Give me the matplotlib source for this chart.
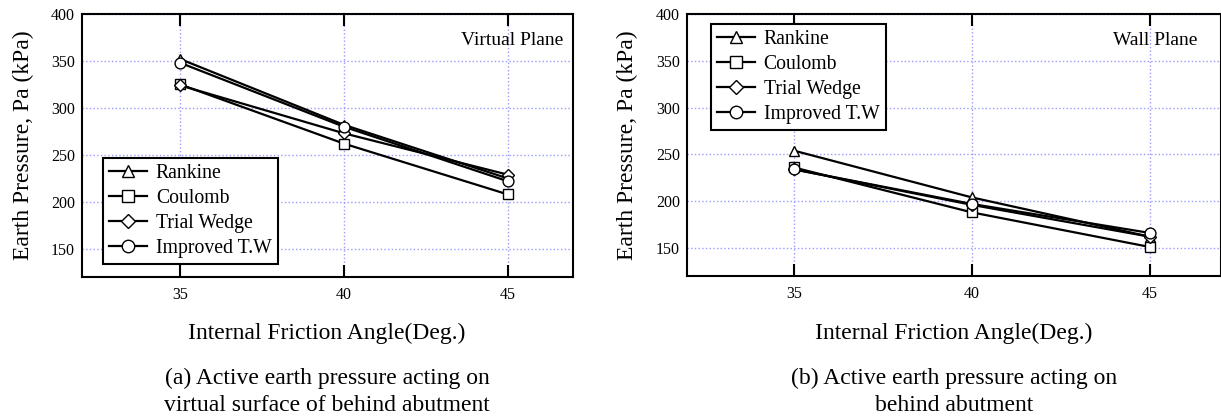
import matplotlib
matplotlib.use("Agg")
import matplotlib.pyplot as plt

plt.rcParams['font.family'] = ['Liberation Serif', 'DejaVu Serif']

# Data
angle = [35, 40, 45]
series_names = ["Rankine", "Coulomb", "Trial Wedge", "Improved T.W"]

# (a) virtual plane
virtual_rankine = [352, 282, 225]
virtual_coulomb = [325, 262, 208]
virtual_trial = [324, 273, 229]
virtual_improved = [348, 280, 222]

# (b) wall plane
wall_rankine = [254, 204, 162]
wall_coulomb = [236, 188, 151]
wall_trial = [234, 196, 162]
wall_improved = [234, 197, 166]

markers = ['^', 's', 'D', 'o']
msizes = [7, 7.5, 6, 7.8]

fig = plt.figure(figsize=(12.21, 4.19), dpi=100)
ax1 = fig.add_axes([0.0672, 0.3389, 0.4021, 0.6277])
ax2 = fig.add_axes([0.5627, 0.3413, 0.4373, 0.6253])


def draw(ax, data, note, note_x, leg_loc, leg_anchor):
    for vals, name, m, ms in zip(data, series_names, markers, msizes):
        ax.plot(angle, vals, color='black', lw=1.6, marker=m, ms=ms,
                mfc='white', mec='black', mew=1.0, label=name)
    ax.set_xlim(32, 47)
    ax.set_ylim(120, 400)
    ax.set_xticks([35, 40, 45])
    ax.set_yticks([150, 200, 250, 300, 350, 400])
    ax.grid(True, color='#9a9aff', linestyle=':', linewidth=1.0)
    ax.tick_params(axis='x', direction='in', top=True, length=8.6, width=1.5,
                   labelsize=11.5, pad=7)
    ax.tick_params(axis='y', length=0, labelsize=11.5, pad=5)
    for s in ax.spines.values():
        s.set_linewidth(1.5)
    ax.text(note_x, 0.90, note, transform=ax.transAxes, ha='right', va='center',
            fontsize=14)
    leg = ax.legend(loc=leg_loc, bbox_to_anchor=leg_anchor, borderaxespad=0,
                    fontsize=14.2, fancybox=False, framealpha=1,
                    edgecolor='black', handlelength=1.9, handletextpad=0.45,
                    labelspacing=0.3, borderpad=0.32, markerscale=1.15)
    leg.get_frame().set_linewidth(1.5)


draw(ax1, [virtual_rankine, virtual_coulomb, virtual_trial, virtual_improved],
     "Virtual Plane", 0.98, 'lower left', (0.043, 0.049))
draw(ax2, [wall_rankine, wall_coulomb, wall_trial, wall_improved],
     "Wall Plane", 0.955, 'upper left', (0.045, 0.962))

# axis labels and captions
ylab = "Earth Pressure, Pa (kPa)"
fig.text(23 / 1221, 1 - 145 / 419, ylab, rotation=90, ha='center', va='center', fontsize=17)
fig.text(627 / 1221, 1 - 145 / 419, ylab, rotation=90, ha='center', va='center', fontsize=17)

xlab = "Internal Friction Angle(Deg.)"
fig.text(327 / 1221, 1 - 333 / 419, xlab, ha='center', va='center', fontsize=17)
fig.text(954 / 1221, 1 - 333 / 419, xlab, ha='center', va='center', fontsize=17)

fig.text(327 / 1221, 1 - 378 / 419, "(a) Active earth pressure acting on",
         ha='center', va='center', fontsize=17)
fig.text(327 / 1221, 1 - 405 / 419, "virtual surface of behind abutment",
         ha='center', va='center', fontsize=17)
fig.text(954 / 1221, 1 - 378 / 419, "(b) Active earth pressure acting on",
         ha='center', va='center', fontsize=17)
fig.text(954 / 1221, 1 - 405 / 419, "behind abutment",
         ha='center', va='center', fontsize=17)

fig.savefig("out.png", dpi=100)
